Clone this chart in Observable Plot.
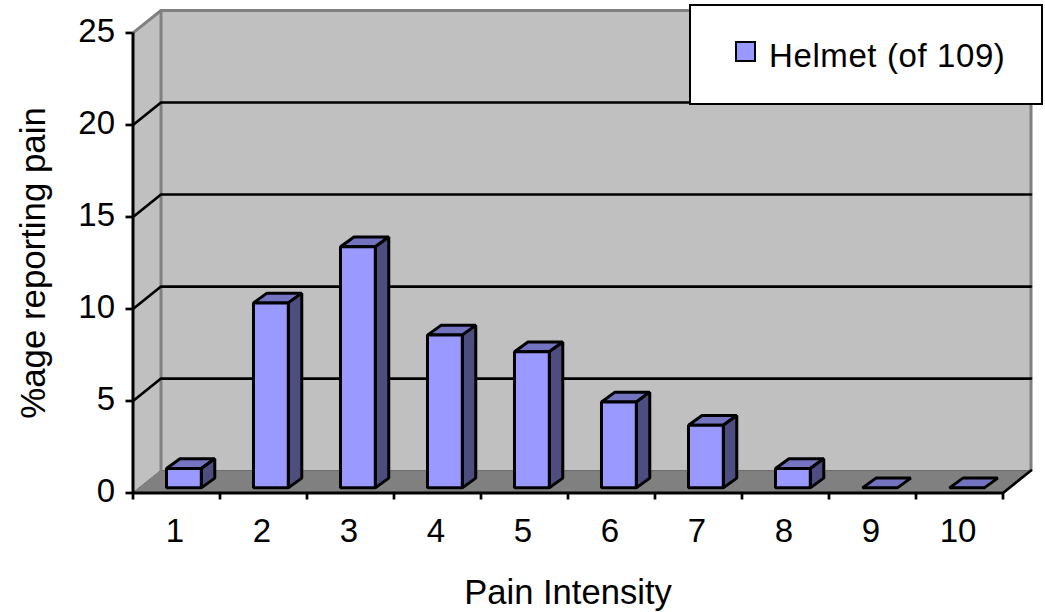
<!DOCTYPE html>
<html>
<head>
<meta charset="utf-8">
<script src="https://cdn.jsdelivr.net/npm/d3@7"></script>
<script src="https://cdn.jsdelivr.net/npm/@observablehq/plot@0.6"></script>
<style>
  html, body { margin: 0; padding: 0; background: #fff; }
  #wrap { position: relative; width: 1045px; height: 612px; font-family: "Liberation Sans", Arial, sans-serif; color: #000; }
  #legend { position: absolute; left: 689px; top: 4px; width: 350px; height: 97px; background: #fff; border: 2.5px solid #000; box-sizing: content-box; }
  #legend .sw { position: absolute; left: 44px; top: 35px; width: 17px; height: 17px; background: #9999ff; border: 2.5px solid #000; }
  #legend .tx { position: absolute; left: 78px; top: 31px; font-size: 33px; line-height: 38px; letter-spacing: 0.6px; white-space: nowrap; }
</style>
</head>
<body>
<div id="wrap"><div id="legend"><span class="sw"></span><span class="tx">Helmet (of 109)</span></div></div>
<script>
const categories = [1, 2, 3, 4, 5, 6, 7, 8, 9, 10];
const helmet = [1.05, 10.05, 13.1, 8.3, 7.4, 4.67, 3.4, 1.05, 0, 0];
const yTicks = [0, 5, 10, 15, 20, 25];
const gridValues = [5, 10, 15, 20];
const seriesName = "Helmet (of 109)";
const xTitle = "Pain Intensity";
const yTitle = "%age reporting pain";

// oblique projection of the 3D box, in data units
const x0 = 0.5, x1 = 10.5, yMax = 25;
const wallDx = 0.322, wallDy = 1.22;
const barShiftX = 0.085, barShiftY = 0.28;
const barDepthX = 0.155, barDepthY = 0.53, barHalf = 0.2;

const poly = (id, pts) => pts.map(([x, y]) => ({id, x, y}));

const sideWall = poly("s", [[x0, 0], [x0 + wallDx, wallDy], [x0 + wallDx, yMax + wallDy], [x0, yMax]]);
const backWall = poly("b", [[x0 + wallDx, wallDy], [x1 + wallDx, wallDy], [x1 + wallDx, yMax + wallDy], [x0 + wallDx, yMax + wallDy]]);
const floor = poly("f", [[x0, 0], [x1, 0], [x1 + wallDx, wallDy], [x0 + wallDx, wallDy]]);
const wallEdge = poly("e", [[x0, yMax], [x0 + wallDx, yMax + wallDy], [x1 + wallDx, yMax + wallDy], [x1 + wallDx, wallDy]]);
const wallEdge2 = poly("e2", [[x0 + wallDx, yMax + wallDy], [x0 + wallDx, wallDy]]);
const gridLines = gridValues.flatMap(v => poly(v, [[x0, v], [x0 + wallDx, v + wallDy], [x1 + wallDx, v + wallDy]]));

const front = [], side = [], top_ = [];
categories.forEach((c, i) => {
  const l = c + barShiftX - barHalf, r = c + barShiftX + barHalf;
  const b = barShiftY, t = barShiftY + helmet[i];
  top_.push(...poly(c, [[l, t], [r, t], [r + barDepthX, t + barDepthY], [l + barDepthX, t + barDepthY]]));
  if (helmet[i] > 0) {
    front.push(...poly(c, [[l, b], [r, b], [r, t], [l, t]]));
    side.push(...poly(c, [[r, b], [r + barDepthX, b + barDepthY], [r + barDepthX, t + barDepthY], [r, t]]));
  }
});

const face = (data, fill) => Plot.line(data, {x: "x", y: "y", z: "id", fill, stroke: "#000", strokeWidth: 3, strokeLinejoin: "miter", curve: "linear-closed"});
const flat = (data, fill) => Plot.line(data, {x: "x", y: "y", z: "id", fill, stroke: "none", curve: "linear-closed"});

const chart = Plot.plot({
  width: 1045,
  height: 612,
  marginLeft: 132.5,
  marginRight: 14.5,
  marginTop: 10,
  marginBottom: 119.5,
  style: {background: "transparent", fontFamily: "'Liberation Sans', Arial, sans-serif", color: "#000", overflow: "visible"},
  x: {type: "linear", domain: [x0, x1 + wallDx]},
  y: {type: "linear", domain: [0, yMax + wallDy]},
  marks: [
    flat(sideWall, "#c0c0c0"),
    flat(backWall, "#c0c0c0"),
    Plot.line(floor, {x: "x", y: "y", z: "id", fill: "#808080", stroke: "#6a6a6a", strokeWidth: 1, curve: "linear-closed"}),
    Plot.line(wallEdge, {x: "x", y: "y", z: "id", stroke: "#808080", strokeWidth: 3}),
    Plot.line(wallEdge2, {x: "x", y: "y", z: "id", stroke: "#808080", strokeWidth: 3}),
    Plot.line(gridLines, {x: "x", y: "y", z: "id", stroke: "#000", strokeWidth: 2.7}),
    Plot.line(poly("r", [[x1, 0], [x1 + wallDx, wallDy]]), {x: "x", y: "y", z: "id", stroke: "#000", strokeWidth: 2.7}),
    face(top_, "#7373bf"),
    face(side, "#4d4d80"),
    face(front, "#9999ff"),
    Plot.ruleX([x0], {y1: 0, y2: yMax, stroke: "#000", strokeWidth: 3}),
    Plot.ruleY([0], {x1: x0, x2: x1, stroke: "#000", strokeWidth: 3}),
    Plot.axisY({ticks: yTicks, anchor: "left", label: null, tickSize: 7, tickFormat: () => "", strokeWidth: 2.7, stroke: "#000"}),
    Plot.axisY({ticks: yTicks, anchor: "left", label: null, tickSize: 0, tickPadding: 18, dy: -1.5, fontSize: 33, fill: "#000"}),
    Plot.axisX({ticks: d3.range(x0, x1 + 1), anchor: "bottom", label: null, tickSize: 7, tickFormat: () => "", strokeWidth: 2.7, stroke: "#000"}),
    Plot.axisX({ticks: categories, anchor: "bottom", label: null, tickSize: 0, tickPadding: 26, dx: -1.5, fontSize: 33, fill: "#000", tickFormat: d => String(d)}),
    Plot.text([xTitle], {x: 5.5, y: 0, dy: 100, text: d => d, fontSize: 34.6, fill: "#000", textAnchor: "middle"}),
    Plot.text([yTitle], {x: x0, y: 12.5, dx: -99, text: d => d, fontSize: 34.8, fill: "#000", rotate: -90, textAnchor: "middle"})
  ]
});
document.getElementById("wrap").prepend(chart);
document.querySelector("#legend .tx").textContent = seriesName;
</script>
</body>
</html>
